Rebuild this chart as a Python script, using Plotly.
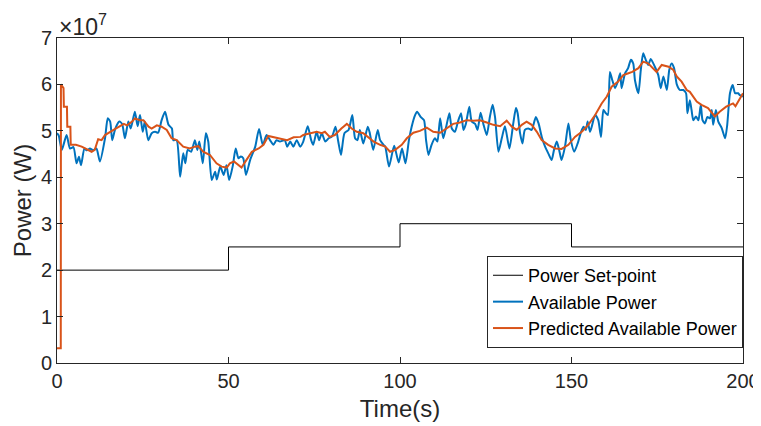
import plotly.graph_objects as go

# time (s) and power values (units of 1e7 W)
setpoint_t = [0, 50, 100, 150, 200]
setpoint_p = [2.0, 2.5, 3.0, 2.5, 2.5]

avail_t = [0, 0.5, 1.4, 2.8, 3.8, 4.8, 5.7, 6.4, 7.0, 8.0, 8.7, 9.6, 10.5, 11.5, 12.5,
           14.0, 14.8, 15.5, 16.1, 17.0, 18.2, 19.0, 19.8, 20.8, 21.5, 22.7, 23.5, 24.2,
           25.0, 25.6, 26.6, 27.6, 28.6, 29.5, 30.5, 31.5, 32.5, 33.5, 33.9, 34.9, 35.9,
           36.8, 37.4, 38.1, 39.1, 40.2, 40.9, 41.5, 42.5, 43.4, 44.1, 45.1, 46.1, 46.6,
           47.6, 48.6, 49.4, 50.2, 51.2, 52.1, 52.9, 53.6, 54.3, 55.1, 56.3, 57.8, 58.9,
           60.0, 61.1, 62.1, 63.1, 64.0, 65.0, 66.4, 67.1, 68.0, 68.9, 69.9, 70.9, 71.8,
           73.1, 74.1, 74.7, 75.7, 76.4, 77.2, 78.2, 79.2, 80.2, 81.2, 82.0, 82.8, 83.8,
           85.0, 86.1, 86.9, 87.6, 88.3, 89.3, 90.6, 91.2, 92.2, 93.5, 94.2, 95.2, 95.7,
           96.8, 98.3, 99.6, 100.6, 101.6, 102.6, 103.4, 104.4, 105.0, 106.0, 107.0,
           107.6, 108.3, 109.2, 110.2, 110.9, 111.7, 112.6, 113.5, 114.4, 115.1, 116.0,
           116.9, 117.8, 118.5, 119.2, 120.2, 120.9, 121.9, 122.6, 123.5, 124.3, 125.3,
           126.2, 127.0, 127.7, 128.7, 129.7, 130.6, 131.9, 133.0, 133.8, 134.3, 135.0,
           135.7, 136.4, 137.4, 138.4, 139.6, 140.4, 141.4, 142.3, 143.2, 144.2, 144.9,
           145.7, 146.4, 147.1, 148.1, 149.1, 149.8, 150.8, 151.8, 152.8, 153.5, 154.2,
           154.7, 155.4, 155.9, 156.9, 157.8, 158.6, 159.3, 160.0, 160.6, 161.2, 161.9,
           162.7, 163.5, 164.2, 164.6, 165.6, 166.5, 167.3, 168.0, 168.5, 169.5, 170.2,
           170.9, 171.7, 172.4, 173.1, 174.3, 175.3, 176.0, 176.8, 177.8, 178.5, 179.2,
           179.9, 180.7, 181.6, 182.6, 183.4, 183.8, 184.5, 185.0, 185.5, 186.3, 187.0,
           187.7, 188.2, 188.9, 189.6, 190.4, 190.9, 191.3, 192.1, 192.8, 193.8, 194.8,
           195.4, 196.2, 197.0, 197.7, 198.6, 199.1, 200.0]
avail_p = [4.95, 4.90, 4.59, 4.91, 4.62, 4.65, 4.30, 4.44, 4.26, 4.62, 4.58, 4.62, 4.58, 4.62, 4.34,
           4.84, 5.27, 5.20, 4.80, 5.05, 5.20, 5.15, 4.84, 5.20, 5.05, 5.41, 5.10, 5.34,
           4.98, 5.20, 4.80, 4.95, 4.98, 4.96, 5.23, 5.41, 5.13, 5.05, 4.80, 4.80, 4.01,
           4.52, 4.30, 4.59, 4.55, 4.80, 4.59, 4.77, 4.30, 4.95, 4.77, 3.94, 4.12, 3.95,
           4.23, 4.05, 4.26, 3.94, 4.23, 4.62, 4.41, 4.45, 4.41, 4.05, 4.37, 4.66, 5.04,
           4.70, 4.91, 4.80, 4.70, 4.80, 4.77, 4.80, 4.66, 4.77, 4.66, 4.80, 4.66, 4.77,
           5.10, 4.80, 4.70, 4.98, 4.80, 4.95, 4.77, 4.84, 4.88, 5.09, 4.77, 4.48, 4.95,
           5.02, 5.34, 4.84, 4.80, 5.02, 4.73, 5.09, 4.95, 4.59, 5.02, 4.80, 4.70, 4.66,
           4.23, 4.68, 4.32, 4.62, 4.30, 4.80, 5.09, 5.34, 5.41, 5.30, 5.23,
           4.80, 4.48, 4.70, 4.84, 4.77, 5.27, 4.84, 5.10, 5.38, 5.05, 4.98,
           5.20, 5.38, 5.02, 5.15, 5.52, 5.20, 5.15, 5.02, 5.39, 5.15, 4.91,
           5.30, 5.56, 5.30, 4.55, 4.85, 5.10, 4.62, 5.15, 5.49, 5.38, 4.95,
           4.73, 5.02, 5.05, 5.02, 5.30, 5.16, 4.85, 4.66, 4.52, 4.37, 4.59,
           4.77, 4.59, 4.37, 4.66, 5.16, 4.80, 4.55, 4.73, 4.98, 5.09, 5.02,
           5.20, 4.98, 5.09, 5.34, 5.23, 4.87, 5.45, 5.38, 5.34, 6.27, 6.09,
           5.92, 6.06, 6.24, 5.92, 6.24, 6.35, 6.53, 6.45, 6.09, 5.81, 6.31,
           6.67, 6.52, 6.42, 6.55, 6.38, 6.20, 5.92, 6.17, 5.88, 6.31, 6.45,
           6.35, 6.00, 5.88, 5.88, 5.81, 5.38, 5.66, 5.45, 5.23, 5.31, 5.23,
           5.56, 5.23, 5.16, 5.30, 5.27, 5.45, 5.13, 5.45, 5.20, 5.06, 4.84,
           5.13, 5.81, 5.99, 5.81, 5.81, 5.77, 5.74]

pred_t = [0, 1.1, 1.15, 1.9, 2.0, 2.9, 3.0, 3.9, 4.0, 5.5, 7.2, 9.1, 10.1, 11.0, 12.0, 13.0,
          14.0, 16.0, 17.9, 19.5, 20.4, 21.9, 22.7, 24.2, 25.2, 26.7, 27.6, 29.1, 30.5,
          32.0, 33.4, 34.9, 36.8, 38.7, 40.2, 41.2, 42.6, 44.6, 46.5, 48.0, 49.5, 50.4,
          51.6, 52.8, 53.8, 55.2, 56.8, 58.8, 60.2, 61.6, 63.0, 65.0, 67.1, 69.0, 71.0,
          71.8, 73.8, 75.7, 77.2, 78.1, 79.5, 81.0, 82.9, 84.5, 85.9, 87.4, 89.3, 90.8,
          92.3, 94.2, 95.7, 97.1, 98.6, 100.5, 102.0, 103.9, 105.8, 107.8, 109.7, 111.7,
          113.6, 115.5, 117.5, 119.4, 121.4, 123.3, 125.3, 127.2, 129.2, 131.1, 132.6,
          134.0, 135.5, 136.9, 138.4, 139.9, 141.3, 143.2, 145.2, 147.1, 149.1, 151.0,
          153.0, 154.9, 156.9, 158.8, 160.3, 161.7, 163.6, 165.1, 166.6, 167.7, 169.5,
          170.9, 172.4, 173.4, 174.8, 176.3, 178.3, 179.7, 180.7, 182.1, 183.6, 184.5,
          186.5, 187.9, 189.8, 191.8, 193.2, 195.1, 197.1, 197.8, 200.0]
pred_p = [0.32, 0.32, 6.00, 5.92, 5.52, 5.52, 5.09, 5.09, 4.70, 4.70, 4.66, 4.59, 4.55, 4.59, 4.82, 4.80,
          4.91, 5.00, 5.09, 5.15, 5.12, 5.20, 5.27, 5.23, 5.23, 5.09, 5.05, 5.12, 5.09,
          5.02, 4.84, 4.80, 4.66, 4.62, 4.66, 4.67, 4.55, 4.48, 4.30, 4.23, 4.21, 4.30,
          4.34, 4.26, 4.21, 4.37, 4.55, 4.62, 4.70, 4.89, 4.87, 4.84, 4.80, 4.86, 4.87,
          4.91, 4.95, 4.98, 4.95, 4.98, 4.87, 4.91, 5.05, 5.15, 5.05, 4.98, 4.95, 4.86,
          4.77, 4.70, 4.66, 4.55, 4.59, 4.70, 4.84, 4.96, 5.00, 5.07, 4.98, 4.96,
          5.05, 5.15, 5.18, 5.23, 5.22, 5.23, 5.18, 5.13, 5.10, 5.22, 5.09,
          5.02, 5.13, 5.20, 5.13, 4.98, 4.80, 4.70, 4.62, 4.61, 4.70, 4.87,
          4.98, 5.13, 5.34, 5.59, 5.74, 5.95, 6.06, 6.20, 6.24, 6.27, 6.35,
          6.49, 6.45, 6.38, 6.27, 6.42, 6.38, 6.31, 6.17, 6.06, 5.88, 5.84,
          5.63, 5.56, 5.49, 5.31, 5.41, 5.52, 5.59, 5.53, 5.81]

scale = 1e7
font = "Liberation Sans, Arial, Helvetica, sans-serif"
axis_col = "#262626"

fig = go.Figure()
fig.add_trace(go.Scatter(x=setpoint_t, y=[v * scale for v in setpoint_p], mode="lines",
                         line=dict(color="black", width=1, shape="hv"), name="Power Set-point"))
fig.add_trace(go.Scatter(x=avail_t, y=[v * scale for v in avail_p], mode="lines",
                         line=dict(color="#0072BD", width=2, shape="spline", smoothing=0.6),
                         name="Available Power"))
fig.add_trace(go.Scatter(x=pred_t, y=[v * scale for v in pred_p], mode="lines",
                         line=dict(color="#D95319", width=2), name="Predicted Available Power"))

# the page body has an 8px margin, so the figure is sized a bit smaller
fig.update_layout(
    width=753, height=418,
    paper_bgcolor="white", plot_bgcolor="white",
    margin=dict(l=49, r=18, t=30, b=63),
    font=dict(family=font, size=20, color=axis_col),
    showlegend=True,
    legend=dict(x=1, xanchor="right", y=0.046, yanchor="bottom",
                bgcolor="white", bordercolor=axis_col, borderwidth=1,
                font=dict(size=18, color="black"), tracegroupgap=0, itemwidth=30),
    annotations=[dict(text="×10<sup>7</sup>", x=0, y=1, xref="paper", yref="paper",
                      xanchor="left", yanchor="bottom", showarrow=False,
                      font=dict(size=23, color=axis_col), yshift=-4)],
)
fig.update_xaxes(range=[0, 200], tickvals=[0, 50, 100, 150, 200], automargin=False,
                 showline=True, linecolor=axis_col, linewidth=1, mirror="ticks",
                 ticks="inside", ticklen=6, tickcolor=axis_col, showgrid=False, zeroline=False,
                 title=dict(text="Time(s)", standoff=9))
fig.update_yaxes(range=[0, 7e7], tickvals=[i * scale for i in range(8)], automargin=False,
                 ticktext=[str(i) for i in range(8)],
                 showline=True, linecolor=axis_col, linewidth=1, mirror="ticks",
                 ticks="inside", ticklen=6, tickcolor=axis_col, showgrid=False, zeroline=False,
                 title=dict(text="Power (W)", standoff=2))

fig.write_html("out.html")
